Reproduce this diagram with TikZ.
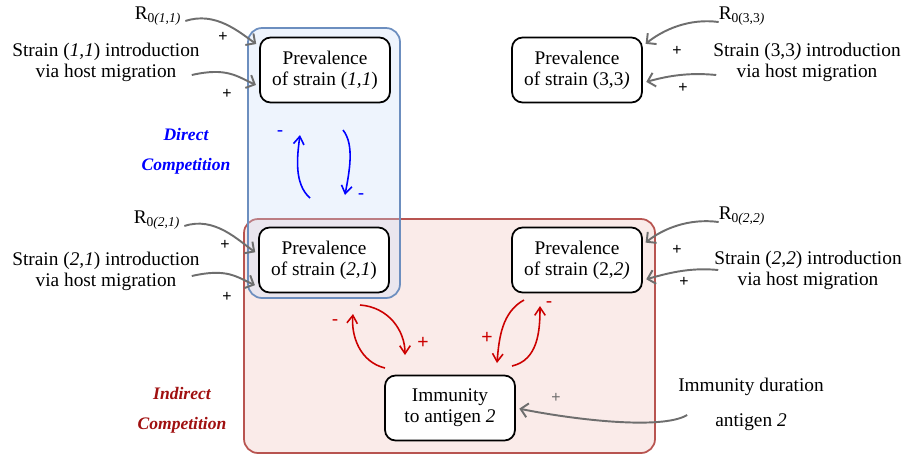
\documentclass[tikz,border=0pt]{standalone}
\usepackage{fontspec}
\setmainfont{Liberation Serif}
\newfontfamily\signfont{Liberation Sans}
\usetikzlibrary{positioning,calc,arrows.meta}

\definecolor{dirline}{RGB}{108,142,191}
\definecolor{dirfill}{RGB}{200,220,250}
\definecolor{indline}{RGB}{184,84,80}
\definecolor{indfill}{RGB}{250,235,233}
\definecolor{indtext}{RGB}{160,16,16}
\definecolor{indarrow}{RGB}{204,0,0}
\definecolor{arrgray}{RGB}{110,110,110}

\begin{document}
\begin{tikzpicture}[x=0.02cm,y=-0.02cm,
    prev/.style={draw,line width=1pt,rounded corners=6pt,fill=white,align=center,
        minimum width=2.6cm,minimum height=1.3cm,inner sep=1pt,font=\fontsize{11}{12}\selectfont},
    lbl/.style={align=center,inner sep=1pt,font=\fontsize{11}{12}\selectfont},
    comp/.style={align=center,font=\fontsize{10}{12}\selectfont\bfseries\itshape},
    sgn/.style={inner sep=0pt,font=\signfont\fontsize{9}{10}\selectfont},
    csgn/.style={inner sep=0pt,font=\signfont\fontsize{11}{12}\selectfont},
    garr/.style={draw=arrgray,line width=1.1pt,shorten >=2pt,-{Straight Barb[length=4pt,width=8pt]}},
    barr/.style={draw=blue,line width=0.9pt,-{Straight Barb[length=4.5pt,width=6pt]}},
    rarr/.style={draw=indarrow,line width=0.9pt,-{Straight Barb[length=4.5pt,width=6pt]}}]
    \useasboundingbox (0,0) rectangle (906,458);

    % competition boxes
    \draw[indline,line width=1pt,fill=indfill,rounded corners=8pt] (244,219) rectangle (655,453);
    \draw[dirline,line width=1pt,fill=dirfill,fill opacity=0.3,rounded corners=8pt] (248,28) rectangle (400,298);

    \node[prev] (p11) at (325,70) {Prevalence\\of strain (\textit{1,1})};
    \node[prev] (p33) at (577,70) {Prevalence\\of strain (3,3\textit{)}};
    \node[prev] (p21) at (324,260) {Prevalence\\of strain (\textit{2,1})};
    \node[prev] (p22) at (577,260) {Prevalence\\of strain (2,\textit{2)}};
    \node[prev] (imm) at (450,408) {Immunity\\to antigen \textit{2}};

    \node[lbl] (r11) at (158,16) {R\textsubscript{0\textit{(1,1)}}};
    \node[lbl] (s11) at (106,62) {Strain (\textit{1,1}) introduction\\via host migration};
    \node[lbl] (r21) at (157,220) {R\textsubscript{0\textit{(2,1)}}};
    \node[lbl] (s21) at (106,271) {Strain (\textit{2,1}) introduction\\via host migration};
    \node[lbl] (r33) at (742,16) {R\textsubscript{0(3,3\textit{)}}};
    \node[lbl] (s33) at (807,62) {Strain (3,3\textit{)} introduction\\via host migration};
    \node[lbl] (r22) at (742,216) {R\textsubscript{0\textit{(2,2)}}};
    \node[lbl] (s22) at (808,270) {Strain (\textit{2,2}) introduction\\via host migration};
    \node[lbl] (dur) at (751,404) {Immunity duration\\[8pt]antigen \textit{2}};

    \node[comp,text=blue] (direct) at (186,151) {Direct\\[5pt]Competition};
    \node[comp,text=indtext] (indirect) at (182,410) {Indirect\\[5pt]Competition};

    \draw[garr] ($(r11.east)+(2,5)$) .. controls +(30,-10) and +(-20,-14) .. (p11.160);
    \draw[garr] ($(s11.east)+(-10,13)$) .. controls +(35,-8) and +(-22,-10) .. (p11.194);
    \draw[garr] ($(r21.east)+(2,6)$) .. controls +(30,-10) and +(-20,-14) .. (p21.175);
    \draw[garr] ($(s21.east)+(-10,5)$) .. controls +(35,-8) and +(-22,-10) .. (p21.202);
    \draw[garr] ($(r33.west)+(2,6)$) .. controls +(-30,-4) and +(20,-16) .. (p33.20);
    \draw[garr] ($(s33.west)+(5,13)$) .. controls +(-30,-3) and +(22,-6) .. (p33.-11);
    \draw[garr] ($(r22.west)+(2,6)$) .. controls +(-30,-4) and +(20,-16) .. (p22.13);
    \draw[garr] ($(s22.west)+(6,0)$) .. controls +(-30,-3) and +(22,-6) .. (p22.-17);
    \draw[garr] ($(dur.west)+(11,11)$) .. controls +(-25,15) and +(60,12) .. (imm.east);

    \node[sgn] (pa) at (223,37) {+};
    \node[sgn] (pb) at (227,94) {+};
    \node[sgn] (pc) at (225,245) {+};
    \node[sgn] (pd) at (227,297) {+};
    \node[sgn] (pe) at (677,51) {+};
    \node[sgn] (pf) at (683,88) {+};
    \node[sgn] (pg) at (677,250) {+};
    \node[sgn] (ph) at (684,282) {+};
    \node[sgn,text=arrgray] (pi) at (556,398) {+};

    % direct competition loop
    \coordinate (d1) at (310,198);
    \coordinate (d2) at (300,135);
    \coordinate (d3) at (343,130);
    \coordinate (d4) at (345,195);
    \draw[barr] (d1) .. controls +(-16,-14) and +(-3,22) .. (d2);
    \draw[barr] (d3) .. controls +(12,15) and +(4,-22) .. (d4);
    \node[csgn,text=blue] (ma) at (280,134) {-};
    \node[csgn,text=blue] (mb) at (361,197) {-};

    % indirect competition loops
    \coordinate (i1) at (385,368);
    \coordinate (i2) at (353,314);
    \coordinate (i3) at (360,305);
    \coordinate (i4) at (405,355);
    \coordinate (i5) at (524,300);
    \coordinate (i6) at (497,363);
    \coordinate (i7) at (512,366);
    \coordinate (i8) at (540,306);
    \draw[rarr] (i1) .. controls +(-25,-6) and +(-2,22) .. (i2);
    \draw[rarr] (i3) .. controls +(28,2) and +(0,-25) .. (i4);
    \draw[rarr] (i5) .. controls +(-22,12) and +(2,-25) .. (i6);
    \draw[rarr] (i7) .. controls +(26,-6) and +(0,25) .. (i8);
    \node[csgn,text=indarrow] (mc) at (335,323) {-};
    \node[csgn,text=indarrow] (pj) at (423,343) {+};
    \node[csgn,text=indarrow] (pk) at (487,338) {+};
    \node[csgn,text=indarrow] (md) at (549,305) {-};
\end{tikzpicture}
\end{document}
